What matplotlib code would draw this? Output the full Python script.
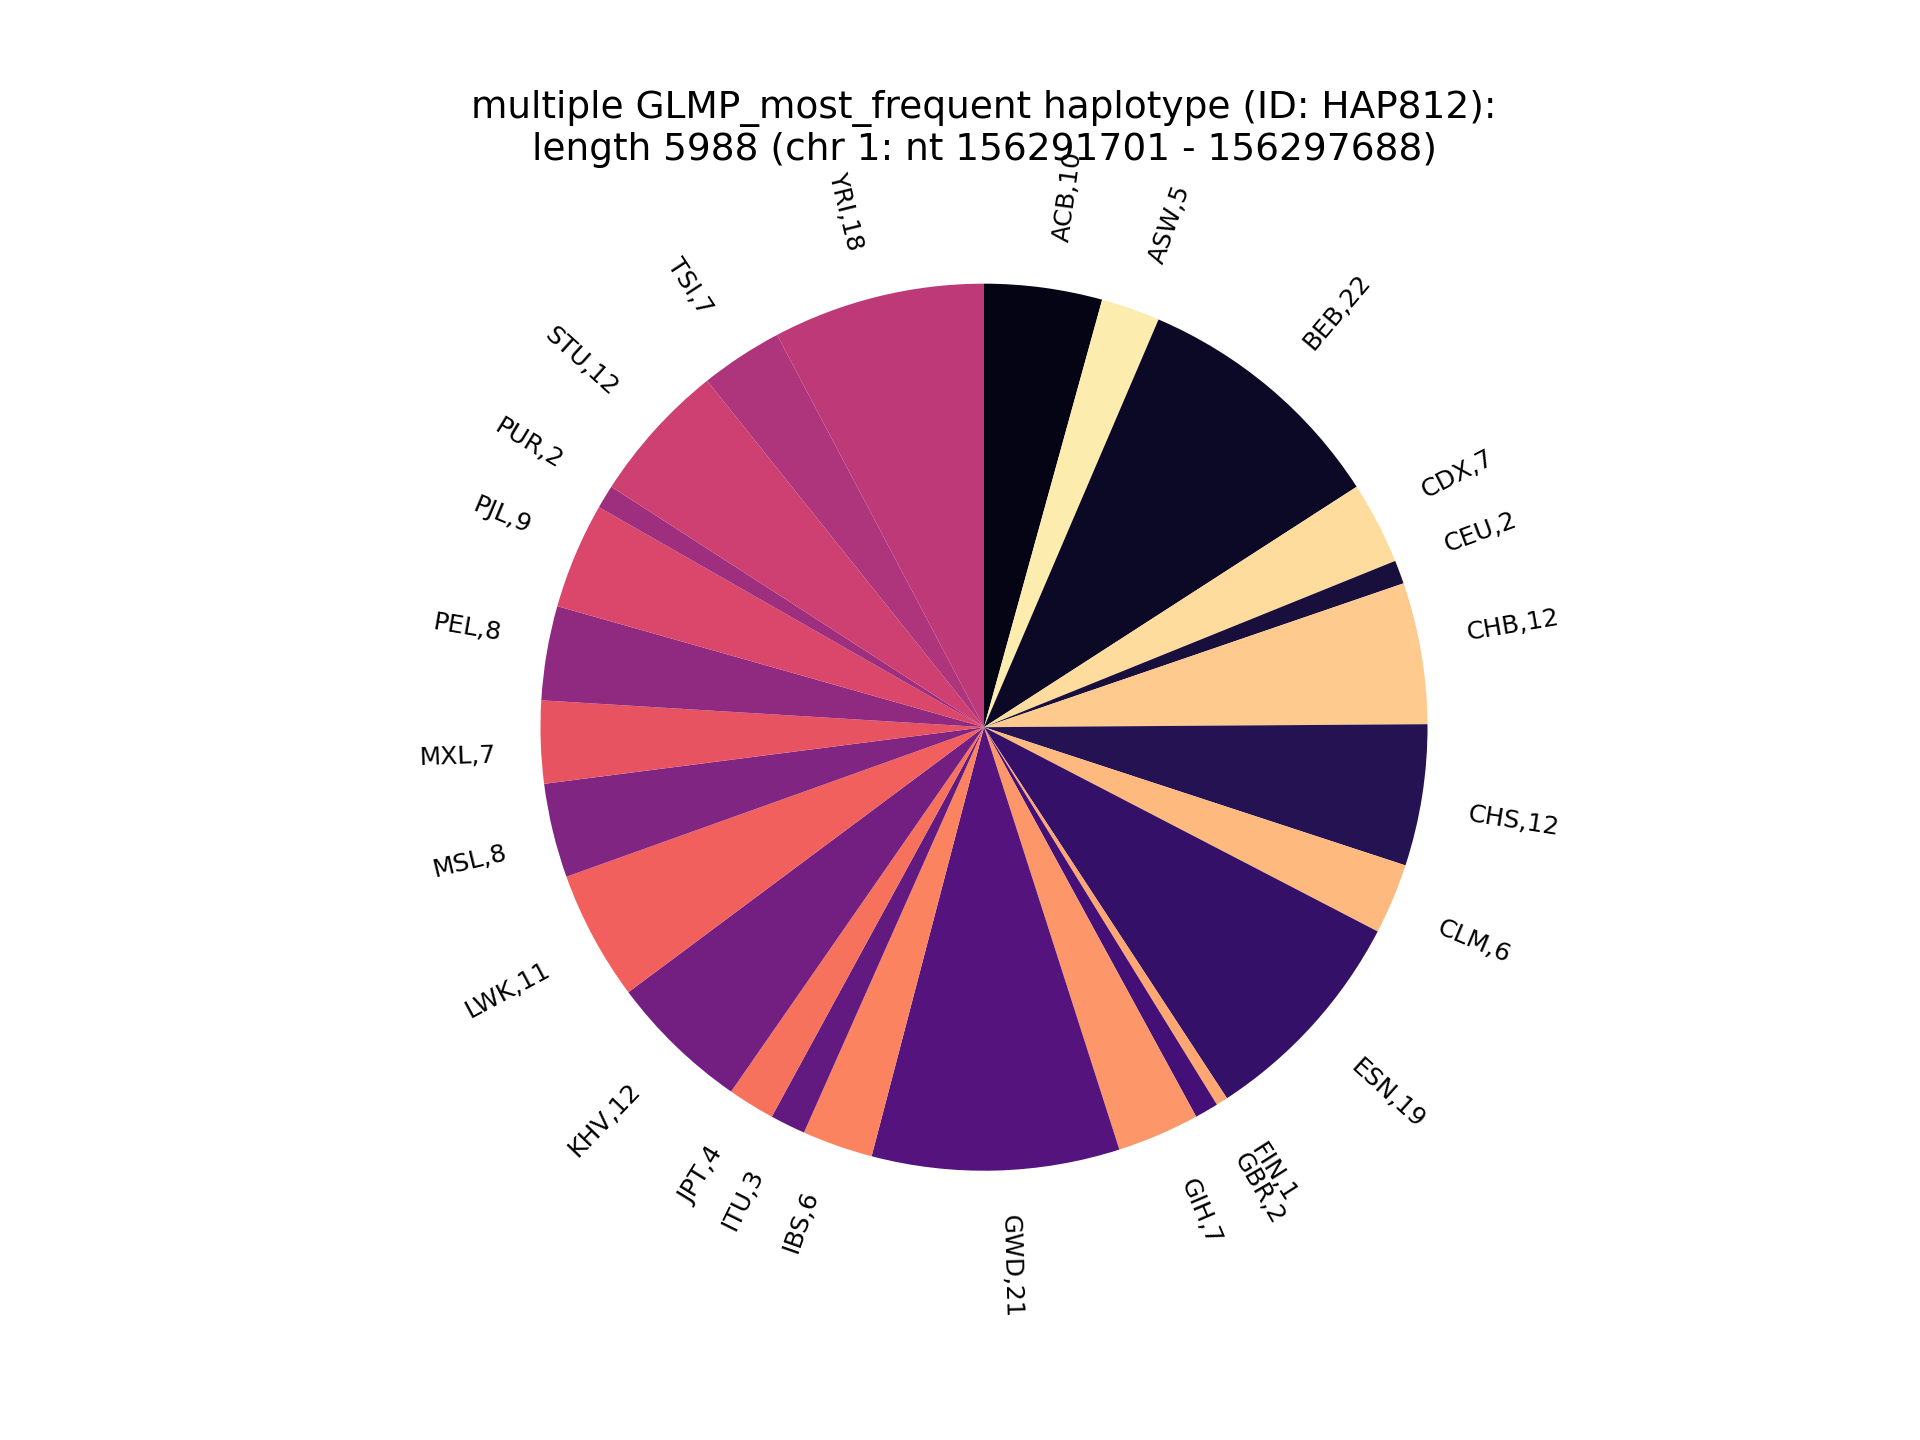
import matplotlib
matplotlib.use("Agg")
import matplotlib.pyplot as plt
import seaborn as sns

populations = ["ACB", "ASW", "BEB", "CDX", "CEU", "CHB", "CHS", "CLM", "ESN", "FIN",
               "GBR", "GIH", "GWD", "IBS", "ITU", "JPT", "KHV", "LWK", "MSL", "MXL",
               "PEL", "PJL", "PUR", "STU", "TSI", "YRI"]
counts = [10, 5, 22, 7, 2, 12, 12, 6, 19, 1, 2, 7, 21, 6, 3, 4, 12, 11, 8, 7, 8, 9, 2, 12, 7, 18]

# interleave dark and light ends of magma palette
pal = sns.color_palette("magma", len(populations))
colors = []
lo, hi = 0, len(pal) - 1
for i in range(len(populations)):
    if i % 2 == 0:
        colors.append(pal[lo]); lo += 1
    else:
        colors.append(pal[hi]); hi -= 1

labels = [f"{p},{c}" for p, c in zip(populations, counts)]

fig, ax = plt.subplots(figsize=(12.8, 9.6), dpi=150)
ax.pie(counts, labels=labels, colors=colors, startangle=90, counterclock=False,
       rotatelabels=True, textprops={"fontsize": 12})
ax.set_title("multiple GLMP_most_frequent haplotype (ID: HAP812):\n"
             "length 5988 (chr 1: nt 156291701 - 156297688)", fontsize=18)
fig.savefig("out.png", dpi=150)
